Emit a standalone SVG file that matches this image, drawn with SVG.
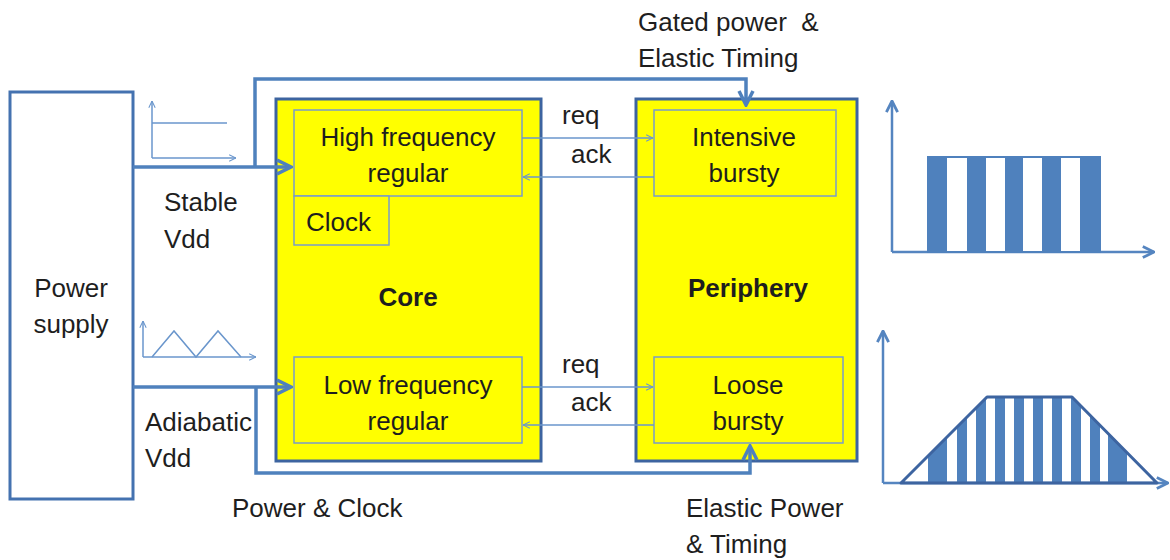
<svg xmlns="http://www.w3.org/2000/svg" width="1170" height="560" viewBox="0 0 1170 560">
<defs>
<style>
text{font-family:"Liberation Sans",Arial,sans-serif;font-size:26px;fill:#1e1e1e}
.b{font-weight:bold}
.m{text-anchor:middle}
.outer{fill:#ffff00;stroke:#3d64a0;stroke-width:3}
.inner{fill:#ffff00;stroke:#7a9cc9;stroke-width:1.5}
.ps{fill:#fff;stroke:#4472b0;stroke-width:3}
.thick{fill:none;stroke:#4f81bd;stroke-width:3.5}
.thin{fill:none;stroke:#6a96cc;stroke-width:1.5}
.ax{fill:none;stroke:#5585c0;stroke-width:2.5}
</style>
<marker id="ah" viewBox="0 0 10 10" refX="9" refY="5" markerWidth="5" markerHeight="5" orient="auto" markerUnits="strokeWidth"><path d="M1,1 L9,5 L1,9" fill="none" stroke="#4f81bd" stroke-width="2"/></marker>
<marker id="at" viewBox="0 0 10 10" refX="9.5" refY="5" markerWidth="8" markerHeight="8" orient="auto" markerUnits="userSpaceOnUse"><path d="M1,1 L9.5,5 L1,9" fill="none" stroke="#6a96cc" stroke-width="1.3"/></marker>
<marker id="aa" viewBox="0 0 10 10" refX="9" refY="5" markerWidth="14" markerHeight="14" orient="auto" markerUnits="userSpaceOnUse"><path d="M1,1 L9,5 L1,9" fill="none" stroke="#5585c0" stroke-width="2"/></marker>
<clipPath id="trap"><polygon points="901,483 987,397 1072,397 1157,483"/></clipPath>
</defs>

<g id="power-supply">
<rect class="ps" x="10" y="92" width="123" height="407"/>
<text class="m" x="71" y="297">Power</text>
<text class="m" x="71" y="333">supply</text>
</g>

<g id="core">
<rect class="outer" x="276" y="99" width="265" height="362"/>
<text class="b m" x="408" y="306">Core</text>
</g>
<g id="high-frequency">
<rect class="inner" x="294" y="110" width="228" height="86"/>
<text class="m" x="408" y="146">High frequency</text>
<text class="m" x="408" y="182">regular</text>
</g>
<g id="clock">
<rect class="inner" x="294" y="196" width="95" height="49"/>
<text x="306" y="231">Clock</text>
</g>
<g id="low-frequency">
<rect class="inner" x="294" y="357" width="228" height="86"/>
<text class="m" x="408" y="394">Low frequency</text>
<text class="m" x="408" y="430">regular</text>
</g>

<g id="periphery">
<rect class="outer" x="636" y="99" width="221" height="362"/>
<text class="b m" x="748" y="297">Periphery</text>
</g>
<g id="intensive-bursty">
<rect class="inner" x="654" y="110" width="182" height="86"/>
<text class="m" x="744" y="146">Intensive</text>
<text class="m" x="744" y="182">bursty</text>
</g>
<g id="loose-bursty">
<rect class="inner" x="654" y="357" width="189" height="86"/>
<text class="m" x="748" y="394">Loose</text>
<text class="m" x="748" y="430">bursty</text>
</g>

<g id="connectors">
<path class="thick" d="M133,167 H291" marker-end="url(#ah)"/>
<path class="thick" d="M255,167 V79 H746 V105" marker-end="url(#ah)"/>
<path class="thick" d="M133,387 H291" marker-end="url(#ah)"/>
<path class="thick" d="M256,387 V473 H750 V446" marker-end="url(#ah)"/>
<path class="thin" d="M522,138 H653" marker-end="url(#at)"/>
<path class="thin" d="M654,177 H523" marker-end="url(#at)"/>
<path class="thin" d="M522,387 H653" marker-end="url(#at)"/>
<path class="thin" d="M654,425 H523" marker-end="url(#at)"/>
</g>

<g id="labels">
<text x="638" y="31" xml:space="preserve">Gated power  &amp;</text>
<text x="638" y="67">Elastic Timing</text>
<text x="164" y="211">Stable</text>
<text x="164" y="248">Vdd</text>
<text x="145" y="431">Adiabatic</text>
<text x="145" y="467">Vdd</text>
<text x="232" y="517">Power &amp; Clock</text>
<text x="686" y="517">Elastic Power</text>
<text x="686" y="553">&amp; Timing</text>
<text x="562" y="124">req</text>
<text x="571" y="163">ack</text>
<text x="562" y="373">req</text>
<text x="571" y="411">ack</text>
</g>

<g id="stable-icon">
<path class="thin" d="M152,158 V101" marker-end="url(#at)"/>
<path class="thin" d="M152,158 H236" marker-end="url(#at)"/>
<path class="thin" d="M152,123 H227"/>
</g>
<g id="adiabatic-icon">
<path class="thin" d="M143,357 V321" marker-end="url(#at)"/>
<path class="thin" d="M143,357 H256" marker-end="url(#at)"/>
<path class="thin" d="M152,357 L174,331 L196,357 L218,331 L241,357"/>
</g>

<g id="intensive-chart">
<path class="ax" d="M892,252 V101" marker-end="url(#aa)"/>
<path class="ax" d="M892,252 H1154" marker-end="url(#aa)"/>
<rect x="928" y="157" width="172" height="95" fill="#fff" stroke="#4f81bd" stroke-width="2"/>
<g fill="#4f81bd">
<rect x="928" y="157" width="19" height="95"/>
<rect x="967" y="157" width="19" height="95"/>
<rect x="1005" y="157" width="18" height="95"/>
<rect x="1042" y="157" width="19" height="95"/>
<rect x="1080" y="157" width="20" height="95"/>
</g>
</g>

<g id="loose-chart">
<path class="ax" d="M883,483 V331" marker-end="url(#aa)"/>
<path class="ax" d="M883,483 H1168" marker-end="url(#aa)"/>
<g fill="#4f81bd" clip-path="url(#trap)">
<rect x="928" y="390" width="19" height="95"/>
<rect x="957" y="390" width="10" height="95"/>
<rect x="976" y="390" width="10" height="95"/>
<rect x="995" y="390" width="10" height="95"/>
<rect x="1014" y="390" width="10" height="95"/>
<rect x="1033" y="390" width="10" height="95"/>
<rect x="1052" y="390" width="10" height="95"/>
<rect x="1071" y="390" width="10" height="95"/>
<rect x="1090" y="390" width="10" height="95"/>
<rect x="1108" y="390" width="19" height="95"/>
</g>
<polygon points="901,483 987,397 1072,397 1157,483" fill="none" stroke="#3d64a0" stroke-width="3" stroke-linejoin="round"/>
</g>
</svg>
